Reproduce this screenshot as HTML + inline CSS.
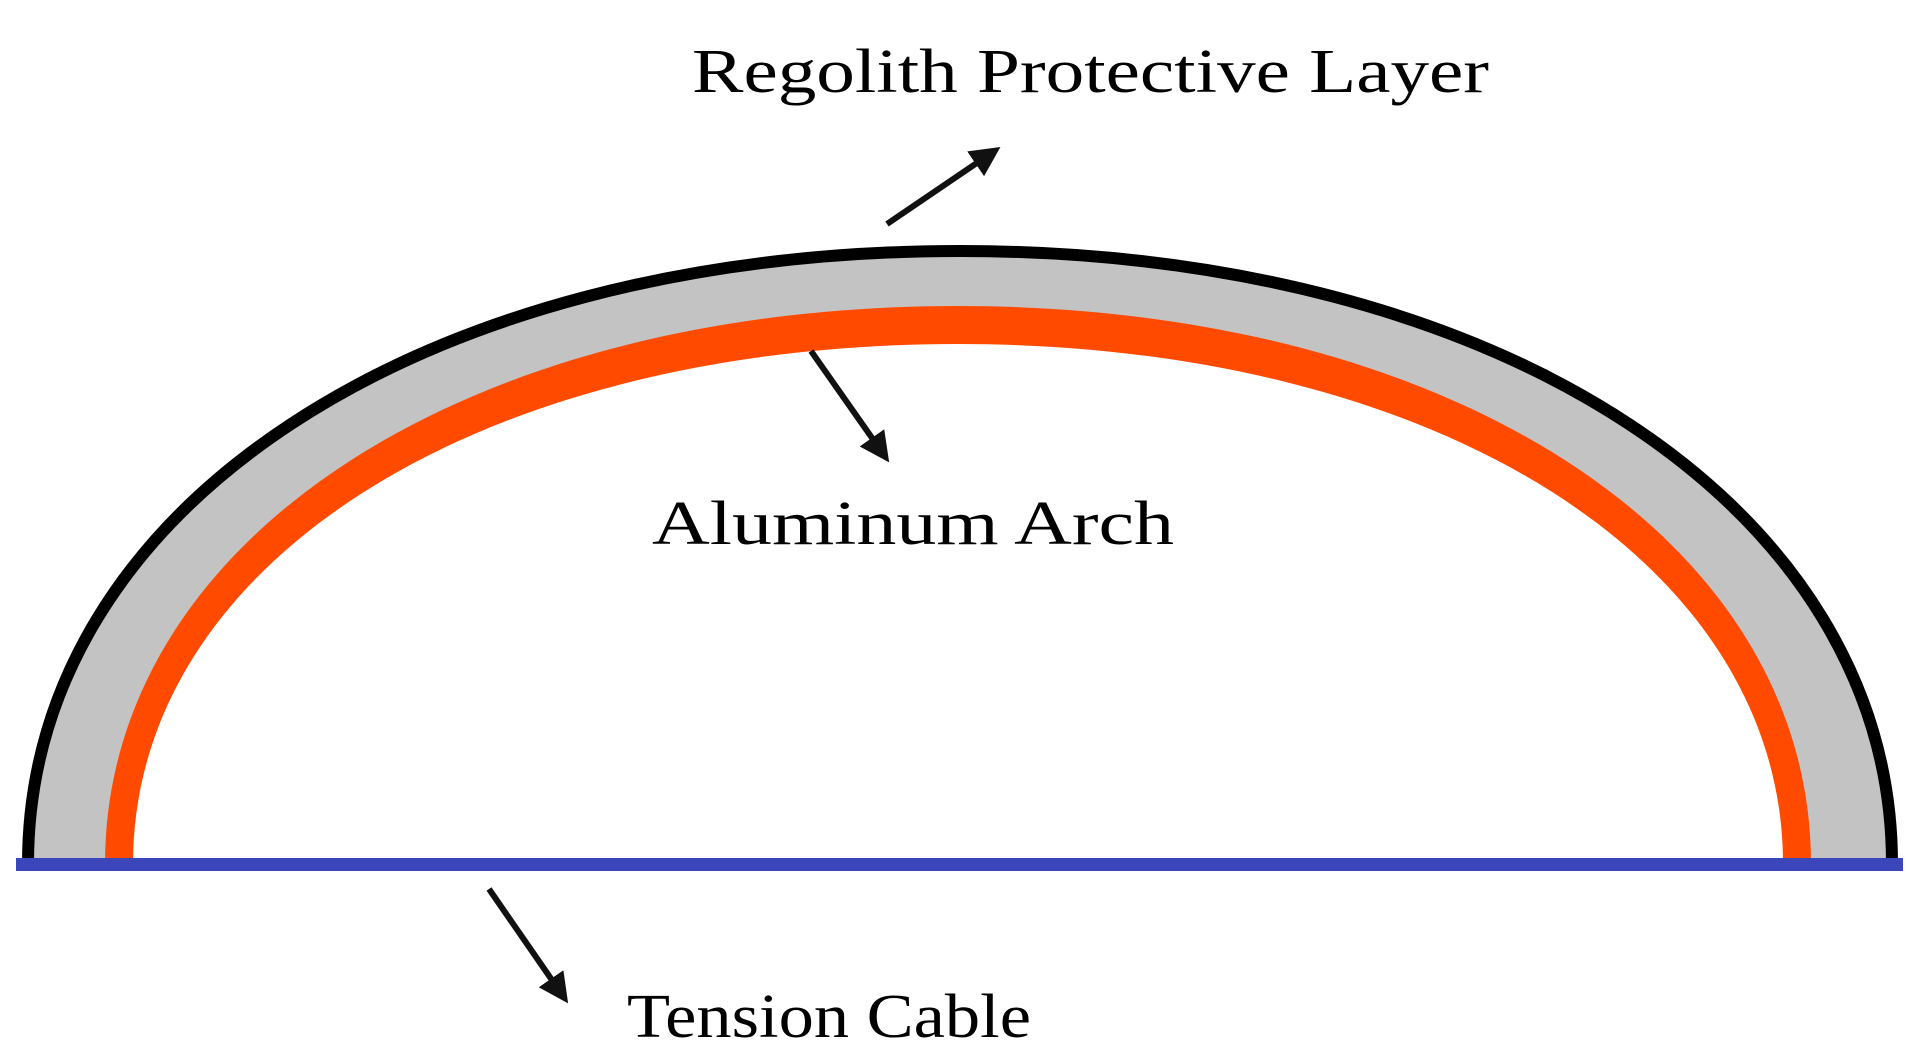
<!DOCTYPE html>
<html><head><style>html,body{margin:0;padding:0;background:#fff;width:1918px;height:1061px;overflow:hidden;}svg{display:block}</style></head>
<body>
<svg width="1918" height="1061" viewBox="0 0 1918 1061" xmlns="http://www.w3.org/2000/svg">
<defs>
<marker id="ah" markerWidth="5" markerHeight="5" refX="3.5" refY="2.5" orient="auto" markerUnits="strokeWidth">
<path d="M0,0 L5,2.5 L0,5 z" fill="#111"/>
</marker>
<clipPath id="c"><rect x="0" y="0" width="1918" height="864"/></clipPath>
</defs>
<g clip-path="url(#c)">
<path d="M28,870 L28,864 C28,508 419,251 960,251 C1501,251 1892,508 1892,864 L1892,870 Z" fill="#c3c3c3" stroke="#000" stroke-width="12"/>
<path d="M105,864 C105,540 463,306 958,306 C1453,306 1811,540 1811,864 Z" fill="#ff4a00"/>
<path d="M133,864 C133,562 479,344 958,344 C1437,344 1783,562 1783,864 Z" fill="#fff"/>
</g>
<rect x="16" y="858" width="1887" height="13" fill="#3b46bb"/>
<g stroke="#111" stroke-width="6" fill="none" marker-end="url(#ah)">
<line x1="887" y1="224" x2="993" y2="152"/>
<line x1="811" y1="351" x2="884" y2="455"/>
<line x1="489" y1="889" x2="563" y2="996"/>
</g>
<g font-family="'Liberation Serif', serif" font-size="62" fill="#000">
<text x="692" y="92" textLength="797" lengthAdjust="spacingAndGlyphs">Regolith Protective Layer</text>
<text x="652" y="544" textLength="522" lengthAdjust="spacingAndGlyphs">Aluminum Arch</text>
<text x="627" y="1037" textLength="404" lengthAdjust="spacingAndGlyphs">Tension Cable</text>
</g>
</svg>
</body></html>
